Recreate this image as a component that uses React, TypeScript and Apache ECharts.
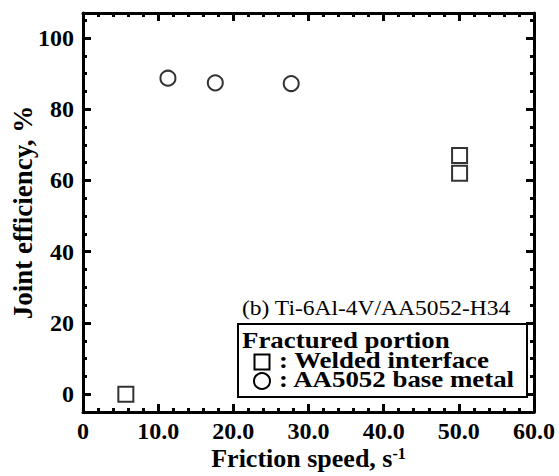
import React, { useEffect, useRef } from "react";
import * as echarts from "echarts";

const squareX = [5.7, 50.1, 50.1];
const squareY = [0, 67, 62];
const circleX = [11.3, 17.6, 27.7];
const circleY = [88.7, 87.4, 87.2];
const yMajor = [0, 20, 40, 60, 80, 100];
const yMinor = [-5, 5, 10, 15, 25, 30, 35, 45, 50, 55, 65, 70, 75, 85, 90, 95, 105];

const FONT = "Liberation Serif";

export default function App() {
  const ref = useRef<HTMLDivElement>(null);
  useEffect(() => {
    document.body.style.margin = "0";
    const chart = echarts.init(ref.current!, null, { renderer: "svg" });
    const line = { show: true, onZero: false, lineStyle: { color: "#000", width: 3 } };
    const noLine = { show: false, onZero: false };
    const tickStyle = { width: 3, color: "#000" };
    const yBase = { type: "value", min: -5, max: 107, splitLine: { show: false } };
    const xBase = { type: "value", min: 0, max: 60, interval: 10, splitLine: { show: false } };
    const legendText = (text: string, x: number, y: number, bold: boolean, size: number) => ({
      type: "text",
      x,
      y,
      z: 11,
      scaleX: 1.12,
      style: {
        text,
        fontFamily: FONT,
        fontWeight: bold ? "bold" : "normal",
        fontSize: size,
        lineHeight: 19,
        fill: "#000",
        verticalAlign: "middle",
      },
    });
    chart.setOption({
      animation: false,
      backgroundColor: "#fff",
      grid: { left: 83, top: 13, right: 25, bottom: 64, containLabel: false, outerBoundsMode: "none" },
      xAxis: [
        {
          ...xBase,
          position: "bottom",
          axisLine: line,
          axisTick: { show: true, inside: true, length: 8, lineStyle: tickStyle },
          minorTick: { show: true, splitNumber: 5, length: 4, lineStyle: tickStyle },
          axisLabel: {
            show: true,
            margin: 7,
            fontFamily: FONT,
            fontWeight: "bold",
            fontSize: 24,
            color: "#000",
            formatter: (v: number) => (v === 0 ? "0" : v.toFixed(1)),
          },
          name: "Friction speed, s{sup|-1}",
          nameLocation: "middle",
          nameGap: 33,
          nameMoveOverlap: false,
          nameTextStyle: {
            fontFamily: FONT,
            fontWeight: "bold",
            fontSize: 26,
            lineHeight: 26,
            color: "#000",
            rich: {
              sup: { fontFamily: FONT, fontWeight: "bold", fontSize: 16, lineHeight: 16, color: "#000", verticalAlign: "top", padding: [0, 0, 10, 0] },
            },
          },
        },
        {
          ...xBase,
          position: "top",
          axisLine: line,
          axisTick: { show: true, inside: true, length: 8, lineStyle: tickStyle },
          minorTick: { show: true, splitNumber: 5, length: 4, lineStyle: tickStyle },
          axisLabel: { show: false },
        },
      ],
      yAxis: [
        {
          ...yBase,
          position: "left",
          axisLine: line,
          axisTick: { show: true, inside: true, length: 8, customValues: yMajor, lineStyle: tickStyle },
          axisLabel: {
            show: true,
            customValues: yMajor,
            margin: 9,
            fontFamily: FONT,
            fontWeight: "bold",
            fontSize: 24,
            color: "#000",
          },
          name: "Joint efficiency, %",
          nameLocation: "middle",
          nameGap: 47,
          nameMoveOverlap: false,
          nameTextStyle: { fontFamily: FONT, fontWeight: "bold", fontSize: 27, color: "#000" },
        },
        {
          ...yBase,
          position: "left",
          axisLine: noLine,
          axisTick: { show: true, inside: true, length: 4, customValues: yMinor, lineStyle: tickStyle },
          axisLabel: { show: false },
        },
        {
          ...yBase,
          position: "right",
          axisLine: line,
          axisTick: { show: true, inside: true, length: 8, customValues: yMajor, lineStyle: tickStyle },
          axisLabel: { show: false },
        },
        {
          ...yBase,
          position: "right",
          axisLine: noLine,
          axisTick: { show: true, inside: true, length: 4, customValues: yMinor, lineStyle: tickStyle },
          axisLabel: { show: false },
        },
      ],
      series: [
        {
          type: "scatter",
          name: "Welded interface",
          symbol: "rect",
          symbolSize: 15,
          data: squareX.map((x, i) => [x, squareY[i]]),
          itemStyle: { color: "rgba(255,255,255,0)", borderColor: "#000", borderWidth: 2 },
        },
        {
          type: "scatter",
          name: "AA5052 base metal",
          symbol: "circle",
          symbolSize: 15,
          data: circleX.map((x, i) => [x, circleY[i]]),
          itemStyle: { color: "rgba(255,255,255,0)", borderColor: "#000", borderWidth: 2 },
        },
      ],
      graphic: [
        legendText("(b) Ti-6Al-4V/AA5052-H34", 242, 308, false, 21),
        {
          type: "rect",
          shape: { x: 238, y: 324, width: 289, height: 73 },
          style: { fill: "#fff", stroke: "#000", lineWidth: 2 },
          z: 10,
        },
        legendText("Fractured portion", 242, 340, true, 24),
        {
          type: "rect",
          z: 11,
          shape: { x: 254.5, y: 354.5, width: 15, height: 15 },
          style: { fill: "none", stroke: "#000", lineWidth: 2 },
        },
        legendText(": Welded interface", 279, 360, true, 24),
        {
          type: "circle",
          z: 11,
          shape: { cx: 262, cy: 381, r: 8 },
          style: { fill: "none", stroke: "#000", lineWidth: 2 },
        },
        legendText(": AA5052 base metal", 279, 379, true, 24),
      ],
    });
    return () => chart.dispose();
  }, []);
  return <div ref={ref} style={{ width: 559, height: 476 }} />;
}
